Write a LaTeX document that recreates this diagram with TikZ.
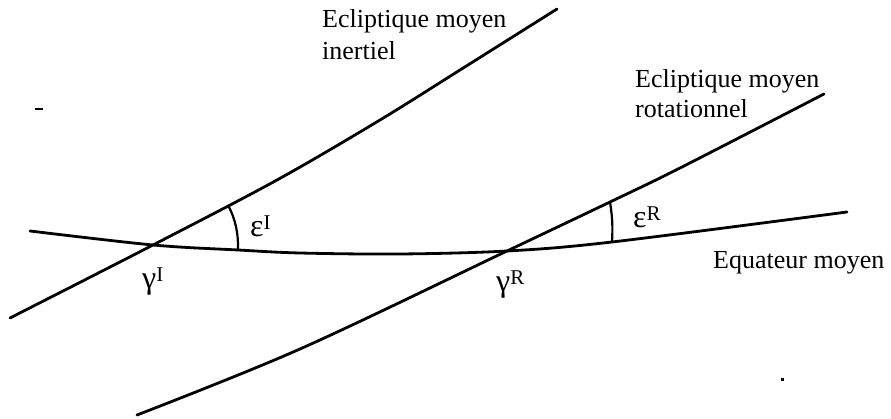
\documentclass[tikz,border=0pt]{standalone}
\usepackage{fontspec}
\setmainfont{Liberation Serif}
\newcommand{\supx}[1]{\raisebox{0.3em}{\fontsize{21}{21}\selectfont #1}}
\newcommand{\grk}[1]{{\fontsize{32}{34}\selectfont #1}}
\begin{document}
\begin{tikzpicture}[x=1pt,y=1pt,
  curve/.style={line width=2.8pt, line cap=round, line join=round},
  anglearc/.style={line width=2.2pt},
  lbl/.style={inner sep=0pt, anchor=base west, font=\fontsize{26}{30}\selectfont}]
\useasboundingbox (0,0) rectangle (891,419);
% intersection points
\coordinate (gI) at (153,174);
\coordinate (gR) at (507,168);
% mean equator
\draw[curve] plot[smooth, tension=0.55] coordinates {(30,188) (153,174) (238,169) (300,166) (400,165) (507,168) (612,177) (847,207)};
% inertial ecliptic
\draw[curve] plot[smooth, tension=0.55] coordinates {(10,101) (153,174) (277,239) (380,299) (460,349) (557,410)};
% rotational ecliptic
\draw[curve] plot[smooth, tension=0.55] coordinates {(137,4) (300,70) (507,168) (610,217) (680,251) (824,325)};
% angle arcs
\draw[anglearc] (gI) ++(-3.4:85pt) arc[start angle=-3.4, end angle=28.1, radius=85pt];
\coordinate (fR) at (612,177);
\coordinate (tR) at (610,217);
\draw[anglearc] (fR) to[bend right=6] (tR);
% labels
\node[lbl] (eqlab) at (713,150) {Equateur moyen};
\node[lbl] (inl1) at (322,391) {Ecliptique moyen};
\node[lbl] (inl2) at (322,359) {inertiel};
\node[lbl] (rol1) at (635,331) {Ecliptique moyen};
\node[lbl] (rol2) at (635,301) {rotationnel};
\node[lbl] (epsI) at (250,182) {\grk{ε}\supx{I}};
\node[lbl] (gamI) at (142,130) {\grk{γ}\supx{I}};
\node[lbl] (epsR) at (633,191) {\grk{ε}\supx{R}};
\node[lbl] (gamR) at (496,127) {\grk{γ}\supx{R}};
% stray marks of the original
\draw[line width=1.3pt] (35,310) -- (43,310);
\fill (781,38) rectangle (784,41);
\end{tikzpicture}
\end{document}
